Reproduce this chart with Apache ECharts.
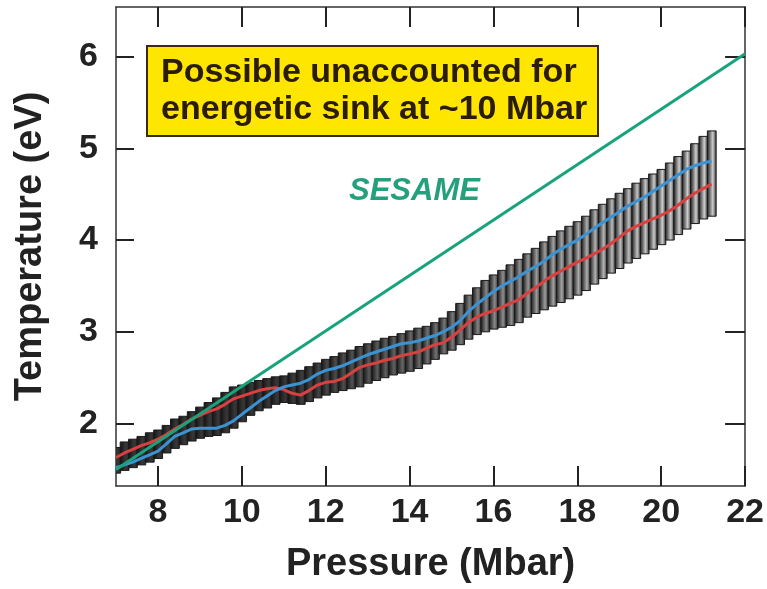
<!DOCTYPE html>
<html>
<head>
<meta charset="utf-8">
<script src="https://cdn.jsdelivr.net/npm/echarts@6/dist/echarts.min.js"></script>
<style>html,body{margin:0;padding:0;background:#fff;}#c{width:767px;height:589px;}</style>
</head>
<body>
<div id="c"></div>
<script>
// ---- data ----
const pressure = [7.0,7.2,7.4,7.6,7.8,8.0,8.2,8.4,8.6,8.8,9.0,9.2,9.4,9.6,9.8,10.0,10.2,10.4,10.6,10.8,11.0,11.2,11.4,11.6,11.8,12.0,12.2,12.4,12.6,12.8,13.0,13.2,13.4,13.6,13.8,14.0,14.2,14.4,14.6,14.8,15.0,15.2,15.4,15.6,15.8,16.0,16.2,16.4,16.6,16.8,17.0,17.2,17.4,17.6,17.8,18.0,18.2,18.4,18.6,18.8,19.0,19.2,19.4,19.6,19.8,20.0,20.2,20.4,20.6,20.8,21.0,21.2];
const bandLow  = [1.46,1.49,1.52,1.55,1.58,1.62,1.68,1.73,1.77,1.81,1.84,1.86,1.87,1.90,1.95,2.02,2.09,2.14,2.17,2.21,2.23,2.22,2.21,2.24,2.28,2.31,2.34,2.36,2.38,2.40,2.44,2.47,2.50,2.53,2.55,2.57,2.60,2.65,2.70,2.76,2.80,2.86,2.92,2.97,3.00,3.03,3.05,3.07,3.10,3.16,3.20,3.24,3.28,3.32,3.36,3.40,3.45,3.52,3.58,3.64,3.69,3.75,3.80,3.85,3.90,3.95,4.00,4.06,4.12,4.18,4.23,4.26];
const bandHigh = [1.74,1.80,1.83,1.86,1.90,1.93,1.98,2.05,2.08,2.13,2.18,2.23,2.28,2.34,2.40,2.42,2.45,2.47,2.49,2.51,2.52,2.55,2.58,2.62,2.66,2.70,2.73,2.77,2.80,2.84,2.87,2.90,2.93,2.95,2.98,3.01,3.04,3.06,3.10,3.15,3.22,3.31,3.40,3.48,3.56,3.62,3.67,3.73,3.79,3.85,3.91,3.98,4.04,4.10,4.15,4.20,4.26,4.33,4.39,4.45,4.51,4.56,4.62,4.67,4.72,4.77,4.84,4.91,4.97,5.05,5.13,5.19];
const redT  = [1.63,1.68,1.72,1.76,1.79,1.83,1.88,1.94,1.99,2.05,2.09,2.13,2.16,2.21,2.27,2.30,2.33,2.36,2.38,2.39,2.37,2.33,2.31,2.36,2.42,2.45,2.46,2.49,2.55,2.61,2.64,2.66,2.69,2.71,2.74,2.76,2.78,2.82,2.86,2.88,2.94,3.02,3.10,3.16,3.20,3.23,3.27,3.31,3.35,3.42,3.48,3.55,3.61,3.66,3.71,3.76,3.80,3.85,3.90,3.96,4.03,4.10,4.15,4.19,4.23,4.27,4.32,4.38,4.45,4.51,4.56,4.61];
const blueT = [1.52,1.55,1.58,1.62,1.66,1.70,1.78,1.86,1.90,1.94,1.95,1.95,1.95,1.98,2.03,2.10,2.17,2.24,2.30,2.36,2.40,2.42,2.44,2.48,2.54,2.58,2.60,2.63,2.67,2.71,2.75,2.78,2.81,2.84,2.87,2.88,2.90,2.93,2.96,3.00,3.05,3.12,3.22,3.30,3.37,3.44,3.50,3.55,3.60,3.66,3.71,3.77,3.84,3.90,3.95,4.00,4.06,4.13,4.19,4.25,4.31,4.37,4.42,4.47,4.53,4.59,4.65,4.71,4.77,4.81,4.84,4.86];
const sesameP = [7, 22];
const sesameT = [1.50, 6.03];
const xTicks = [8, 10, 12, 14, 16, 18, 20, 22];
const yTicks = [2, 3, 4, 5, 6];
const noteLines = ['Possible unaccounted for', 'energetic sink at ~10 Mbar'];
const sesameLabel = 'SESAME';

// ---- chart ----
const FONT = '"Liberation Sans", Arial, Helvetica, sans-serif';
const chart = echarts.init(document.getElementById('c'), null, {renderer: 'canvas'});
const band = pressure.map((p, i) => [p, bandLow[i], bandHigh[i]]);
const red = pressure.map((p, i) => [p, redT[i]]);
const blue = pressure.map((p, i) => [p, blueT[i]]);
const sesame = sesameP.map((p, i) => [p, sesameT[i]]);

const axisLine = {show: true, lineStyle: {color: '#333', width: 1.5}};
const tickStyle = {lineStyle: {color: '#222', width: 2}};

function bandItem(params, api) {
  const x = api.value(0);
  const lo = api.coord([x, api.value(1)]);
  const hi = api.coord([x, api.value(2)]);
  const w = api.size([0.2, 0])[0];
  const t = Math.min(1, Math.max(0, (x - 11) / 9));
  const g = Math.round(55 + t * 150);
  const light = 'rgb(' + g + ',' + g + ',' + g + ')';
  return {
    type: 'rect',
    shape: {x: lo[0] - w / 2, y: hi[1], width: w * 1.05, height: lo[1] - hi[1]},
    style: {
      fill: new echarts.graphic.LinearGradient(0, 0, 1, 0, [
        {offset: 0, color: '#121212'},
        {offset: 0.6, color: light},
        {offset: 1, color: '#2a2a2a'}
      ]),
      stroke: '#1a1a1a',
      lineWidth: 1
    }
  };
}

chart.setOption({
  backgroundColor: '#fff',
  animation: false,
  grid: {left: 116, right: 20, top: 7, bottom: 103, containLabel: false},
  xAxis: [{
    type: 'value', min: 7, max: 22, position: 'bottom',
    axisLine: axisLine,
    axisTick: Object.assign({show: true, inside: true, length: 20, customValues: xTicks}, tickStyle),
    axisLabel: {customValues: xTicks, margin: 10, fontSize: 34, fontWeight: 'bold', color: '#222', fontFamily: FONT},
    splitLine: {show: false},
    name: 'Pressure (Mbar)', nameLocation: 'middle', nameGap: 60,
    nameTextStyle: {fontSize: 38, fontWeight: 'bold', color: '#222', fontFamily: FONT}
  }, {
    type: 'value', min: 7, max: 22, position: 'top',
    axisLine: axisLine,
    axisTick: Object.assign({show: true, inside: true, length: 20, customValues: xTicks}, tickStyle),
    axisLabel: {show: false}, splitLine: {show: false}
  }],
  yAxis: [{
    type: 'value', min: 1.32, max: 6.54, position: 'left',
    axisLine: axisLine,
    axisTick: Object.assign({show: true, inside: true, length: 18, customValues: yTicks}, tickStyle),
    axisLabel: {customValues: yTicks, margin: 18, fontSize: 34, fontWeight: 'bold', color: '#222', fontFamily: FONT},
    splitLine: {show: false},
    name: 'Temperature (eV)', nameLocation: 'middle', nameGap: 66, nameRotate: 90,
    nameTextStyle: {fontSize: 38, fontWeight: 'bold', color: '#222', fontFamily: FONT}
  }, {
    type: 'value', min: 1.32, max: 6.54, position: 'right',
    axisLine: axisLine,
    axisTick: Object.assign({show: true, inside: true, length: 20, customValues: yTicks}, tickStyle),
    axisLabel: {show: false}, splitLine: {show: false}
  }],
  series: [{
    type: 'custom', name: 'band', data: band, renderItem: bandItem,
    encode: {x: 0, y: [1, 2]}, clip: true, z: 2
  }, {
    type: 'line', name: 'red', data: red, showSymbol: false, z: 3,
    lineStyle: {color: '#d8413f', width: 3}
  }, {
    type: 'line', name: 'blue', data: blue, showSymbol: false, z: 4,
    lineStyle: {color: '#3b93d3', width: 3}
  }, {
    type: 'line', name: 'SESAME', data: sesame, showSymbol: false, z: 5,
    lineStyle: {color: '#19a37c', width: 3}
  }],
  graphic: [{
    type: 'rect', left: 146, top: 45, z: 10,
    shape: {width: 451, height: 90},
    style: {fill: '#ffe600', stroke: '#3a2a10', lineWidth: 2}
  }, {
    type: 'text', left: 161, top: 54, z: 11,
    style: {text: noteLines.join('\n'), font: 'bold 34px ' + FONT, fill: '#2a1c05', lineHeight: 37}
  }, {
    type: 'text', left: 349, top: 176, z: 11,
    style: {text: sesameLabel, font: 'italic bold 31px ' + FONT, fill: '#25a07c'}
  }]
});
</script>
</body>
</html>
